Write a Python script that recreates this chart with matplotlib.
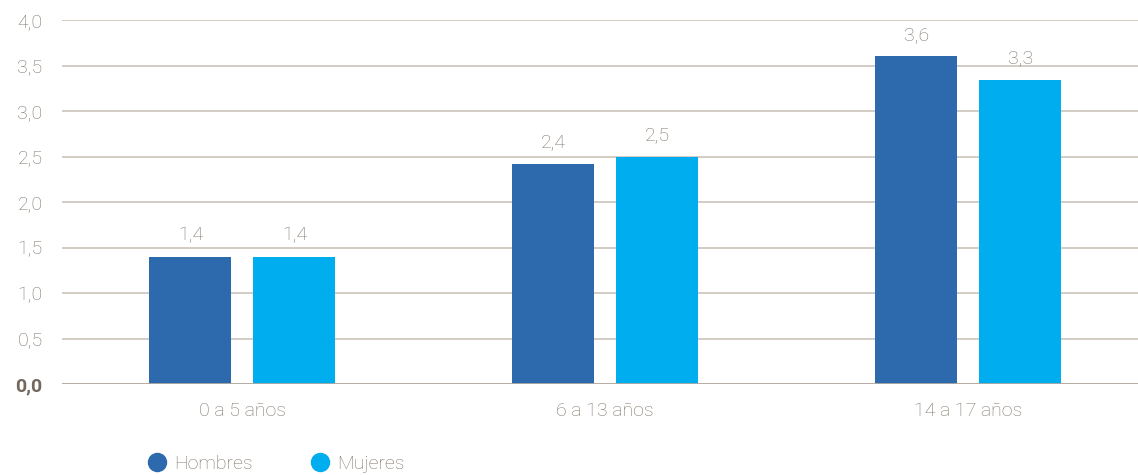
import numpy as np
from matplotlib import pyplot as plt
from matplotlib.lines import Line2D

categorias = ['0 a 5 años', '6 a 13 años', '14 a 17 años']
hombres = [1.4, 2.42, 3.6]
mujeres = [1.4, 2.5, 3.34]
series = ['Hombres', 'Mujeres']

c_hombres = '#2c6aad'
c_mujeres = '#00aeef'
c_texto = '#7f7368'
c_grid = '#cbc3ba'

plt.rcParams['font.family'] = ['Roboto', 'DejaVu Sans']
fs = 14

fig = plt.figure(figsize=(11.38, 4.75), dpi=100)
ax = fig.add_axes([62 / 1138, 91 / 475, 1 - 62 / 1138, 364 / 475])

x = np.arange(len(categorias))
ancho = 0.226
desp = 0.1434
b1 = ax.bar(x - desp, hombres, ancho, color=c_hombres, zorder=3)
b2 = ax.bar(x + desp, mujeres, ancho, color=c_mujeres, zorder=3)

# etiquetas encima de las barras
for barras in (b1, b2):
    for b in barras:
        v = b.get_height()
        ax.annotate(f'{v:.1f}'.replace('.', ','), (b.get_x() + b.get_width() / 2, v),
                    xytext=(0, 9), textcoords='offset points', ha='center', va='bottom',
                    color=c_texto, fontsize=fs, fontweight='light')

ax.set_xlim(-0.497, 2.468)
ax.set_ylim(0, 4)
ax.set_yticks(np.arange(0, 4.01, 0.5))
ax.set_yticklabels([f'{v:.1f}'.replace('.', ',') for v in np.arange(0, 4.01, 0.5)])
ax.set_xticks(x)
ax.set_xticklabels(categorias)

for lbl in ax.get_yticklabels():
    lbl.set_color(c_texto)
    lbl.set_fontsize(fs)
    lbl.set_fontweight('light')
ax.get_yticklabels()[0].set_fontweight('bold')
ax.get_yticklabels()[0].set_color('#74685d')
for lbl in ax.get_xticklabels():
    lbl.set_color(c_texto)
    lbl.set_fontsize(fs)
    lbl.set_fontweight('light')

ax.tick_params(axis='both', length=0)
ax.tick_params(axis='y', pad=14)
ax.tick_params(axis='x', pad=13)

for s in ax.spines.values():
    s.set_visible(False)
ax.grid(axis='y', color=c_grid, linewidth=1.2, zorder=0)
ax.axhline(0, color='#b3aaa0', linewidth=2, zorder=4)

handles = [Line2D([], [], marker='o', linestyle='', markersize=13, color=c) for c in (c_hombres, c_mujeres)]
leg = fig.legend(handles, series, loc='center left', bbox_to_anchor=(130 / 1138, 1 - 464 / 475),
                 ncol=2, frameon=False, handlelength=1.0, handletextpad=0.35,
                 columnspacing=3.0, fontsize=fs)
for t in leg.get_texts():
    t.set_color(c_texto)
    t.set_fontweight('light')

fig.savefig('out.png', dpi=100)
